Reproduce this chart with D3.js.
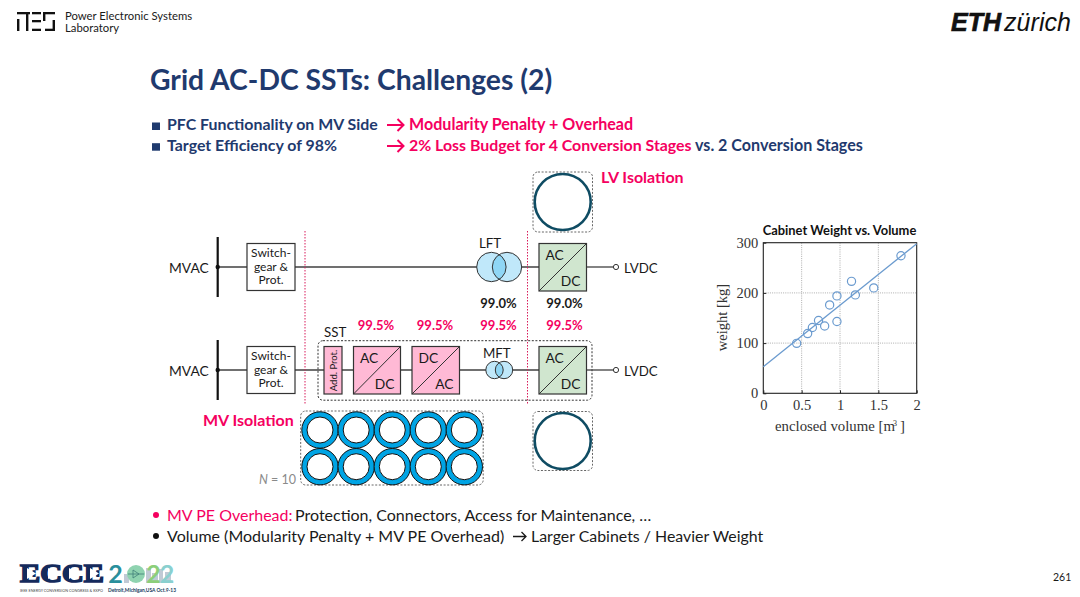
<!DOCTYPE html>
<html lang="en">
<head>
<meta charset="UTF-8">
<title>Grid AC-DC SSTs: Challenges (2)</title>
<script src="https://d3js.org/d3.v7.min.js"></script>
<style>
    html, body { margin: 0; padding: 0; background: #fff; overflow: hidden; }
    svg { display: block; }
    text { font-family: Lato, "Noto Sans", sans-serif; }
    .serif text, text.serif { font-family: "Liberation Serif", serif; }
</style>
</head>
<body>
<svg id="slide" width="1080" height="597"></svg>
<script>
// Cabinet weight vs. volume
const volumes = [0.435, 0.578, 0.64, 0.72, 0.80, 0.865, 0.96, 0.96, 1.15, 1.20, 1.44, 1.795];
const weights = [99.5, 119, 131, 145, 134, 176, 194, 143, 223, 196, 210, 274];
const fitVolumes = [0, 2];
const fitWeights = [53, 298];
const xTicks = [0, 0.5, 1, 1.5, 2];
const yTicks = [0, 100, 200, 300];

// Efficiency labels
const lftEfficiencies = ['99.0%', '99.0%'];
const sstEfficiencies = ['99.5%', '99.5%', '99.5%', '99.5%'];

const navy = '#1f3a6e', pink = '#f5005f', ink = '#1a1a1a', wire = '#404040';
const svg = d3.select('#slide');

function label(parent, x, y, str, size, opts = {}) {
    return parent.append('text')
        .attr('x', x).attr('y', y)
        .attr('font-size', size)
        .attr('font-weight', opts.weight || 400)
        .attr('font-style', opts.style || 'normal')
        .attr('text-anchor', opts.anchor || 'start')
        .attr('fill', opts.fill || ink)
        .text(str);
}

function line(parent, x1, y1, x2, y2, color = wire, width = 1.3, dash = null) {
    return parent.append('line')
        .attr('x1', x1).attr('y1', y1).attr('x2', x2).attr('y2', y2)
        .attr('stroke', color).attr('stroke-width', width)
        .attr('stroke-dasharray', dash);
}

function dashedBox(parent, x, y, w, h, color = '#666', dash = '2 1.6') {
    parent.append('rect')
        .attr('x', x).attr('y', y).attr('width', w).attr('height', h).attr('rx', 5)
        .attr('fill', 'none').attr('stroke', color).attr('stroke-width', 1)
        .attr('stroke-dasharray', dash);
}

function arrow(parent, x, y, len, head, color, width) {
    parent.append('path')
        .attr('d', `M${x},${y}H${x + len}M${x + len - head},${y - head}L${x + len},${y}L${x + len - head},${y + head}`)
        .attr('fill', 'none').attr('stroke', color).attr('stroke-width', width);
}

// ---- header ----
const pes = svg.append('g').attr('fill', '#111');
[[17, 12, 13, 2.3], [17, 19, 2.4, 12], [26, 12, 2.4, 19],
 [32, 12, 9, 2.3], [32, 20, 9, 2.3], [32, 28.7, 9, 2.3],
 [43, 12, 12, 2.3], [43, 12, 2.4, 9], [52.6, 20, 2.4, 11], [45, 28.7, 10, 2.3]]
    .forEach(d => pes.append('rect').attr('x', d[0]).attr('y', d[1]).attr('width', d[2]).attr('height', d[3]));
label(svg, 65, 20, 'Power Electronic Systems', 11.3);
label(svg, 65, 32, 'Laboratory', 11.3);

label(svg, 951, 31, 'ETH', 25, { weight: 700, style: 'italic', fill: '#111' })
    .style('font-family', '"Liberation Sans"').attr('textLength', 50).attr('stroke', '#111').attr('stroke-width', 0.7);
label(svg, 1004, 31, 'zürich', 25, { style: 'italic', fill: '#111' })
    .style('font-family', '"Liberation Sans"').attr('textLength', 67);

label(svg, 150, 89.5, 'Grid AC-DC SSTs: Challenges (2)', 28.3, { weight: 700, fill: navy });

// ---- bullets ----
function square(y) {
    svg.append('rect').attr('x', 152).attr('y', y).attr('width', 8).attr('height', 7.5).attr('fill', navy);
}
square(122.5); square(143.2);
label(svg, 167, 130, 'PFC Functionality on MV Side', 15.9, { weight: 700, fill: navy });
arrow(svg, 387, 125, 16.5, 6, pink, 2);
label(svg, 409, 130, 'Modularity Penalty + Overhead', 16.1, { weight: 700, fill: pink });
label(svg, 167, 151, 'Target Efficiency of 98%', 15.9, { weight: 700, fill: navy });
arrow(svg, 387, 146, 16.5, 6, pink, 2);
label(svg, 409, 151, '2% Loss Budget for 4 Conversion Stages', 15.9, { weight: 700, fill: pink });
label(svg, 695, 151, 'vs. 2 Conversion Stages', 16.1, { weight: 700, fill: navy });

// ---- circuit diagram ----
const dia = svg.append('g');

function converter(px, py, w, h, fill, top, bottom) {
    dia.append('rect').attr('x', px).attr('y', py).attr('width', w).attr('height', h)
        .attr('fill', fill).attr('stroke', '#333').attr('stroke-width', 1.2);
    line(dia, px, py + h, px + w, py, '#333', 1);
    label(dia, px + 6.5, py + 16.5, top, 13.8);
    label(dia, px + w - 6, py + h - 5, bottom, 13.8, { anchor: 'end' });
}

function switchgear(py) {
    dia.append('rect').attr('x', 247).attr('y', py).attr('width', 48).attr('height', 47)
        .attr('fill', '#fff').attr('stroke', '#333').attr('stroke-width', 1.2);
    ['Switch-', 'gear &', 'Prot.'].forEach((s, i) =>
        label(dia, 271, py + 13.5 + i * 13.5, s, 12, { anchor: 'middle' }));
}

function bus(py) {
    line(dia, 217.7, py - 30, 217.7, py + 30, '#111', 2.2);
    dia.append('circle').attr('cx', 217.7).attr('cy', py).attr('r', 2.2).attr('fill', '#111');
    label(dia, 169, py + 5.5, 'MVAC', 13.8);
}

function transformer(cx1, cx2, cy, r, fill, overlap) {
    const id = 'clip' + Math.round(cy);
    dia.append('clipPath').attr('id', id).append('circle').attr('cx', cx1).attr('cy', cy).attr('r', r);
    [cx1, cx2].forEach(cx => dia.append('circle').attr('cx', cx).attr('cy', cy).attr('r', r).attr('fill', fill));
    dia.append('circle').attr('cx', cx2).attr('cy', cy).attr('r', r).attr('fill', overlap).attr('clip-path', `url(#${id})`);
    [cx1, cx2].forEach(cx => dia.append('circle').attr('cx', cx).attr('cy', cy).attr('r', r)
        .attr('fill', 'none').attr('stroke', '#333').attr('stroke-width', 1));
}

function lvdc(py) {
    line(dia, 587, py, 613.5, py);
    dia.append('circle').attr('cx', 616).attr('cy', py).attr('r', 2.6).attr('fill', '#fff').attr('stroke', '#333').attr('stroke-width', 1);
    label(dia, 624, py + 5.5, 'LVDC', 13.3);
}

// wires
line(dia, 218, 267, 539, 267);
line(dia, 218, 370, 539, 370);

// isolation boxes
dashedBox(dia, 533, 172, 59.5, 60);
dashedBox(dia, 533, 411.5, 59.5, 59);
dashedBox(dia, 300.7, 411, 182.5, 74);
dashedBox(dia, 318, 340.7, 274, 59.5, '#333');

bus(267); bus(370);
switchgear(243.5); switchgear(346.5);

// Add. Prot. block
dia.append('rect').attr('x', 324).attr('y', 346.5).attr('width', 18).attr('height', 47.5)
    .attr('fill', '#ffb9d5').attr('stroke', '#333').attr('stroke-width', 1.2);
label(dia, 0, 0, 'Add. Prot.', 9.5, { anchor: 'middle' }).attr('transform', 'translate(336.5,370.5) rotate(-90)');

converter(353.5, 346.5, 47, 47.5, '#ffb9d5', 'AC', 'DC');
converter(412, 346.5, 47.5, 47.5, '#ffb9d5', 'DC', 'AC');
converter(539, 243.5, 47.5, 47.5, '#d0e6cf', 'AC', 'DC');
converter(539, 346.5, 47.5, 47.5, '#d0e6cf', 'AC', 'DC');

transformer(491.4, 507, 267, 14.7, '#c0e8fa', '#8fd6f5');
transformer(494.5, 504, 370, 8.7, '#c0e8fa', '#8fd6f5');
lvdc(267); lvdc(370);

// red separators
[305, 527.5].forEach(px => line(dia, px, 231, px, 404, '#d81b5a', 1, '1.5 1.5'));

// LV core rings
[202, 441].forEach(cy => dia.append('circle').attr('cx', 562.7).attr('cy', cy).attr('r', 28)
    .attr('fill', '#fff').attr('stroke', '#0f4c63').attr('stroke-width', 2.6));

// MV core rings, 2 rows of 5
const ringColumns = [320, 356.2, 392.3, 428.3, 464.3];
const ringRows = [430, 466.7];
ringRows.forEach(cy => ringColumns.forEach(cx => {
    dia.append('circle').attr('cx', cx).attr('cy', cy).attr('r', 15.6)
        .attr('fill', '#fff').attr('stroke', '#00a4e4').attr('stroke-width', 5.2);
    [18.2, 13].forEach(r => dia.append('circle').attr('cx', cx).attr('cy', cy).attr('r', r)
        .attr('fill', 'none').attr('stroke', '#111').attr('stroke-width', 1));
}));

label(dia, 479, 248, 'LFT', 13.3);
label(dia, 483, 358, 'MFT', 13.3);
label(dia, 324, 337, 'SST', 13.3);
label(dia, 203, 425.5, 'MV Isolation', 16, { weight: 700, fill: pink });
label(dia, 601, 182.5, 'LV Isolation', 16, { weight: 700, fill: pink });
label(dia, 259, 484, 'N', 12.5, { style: 'italic', fill: '#8a8a8a' });
label(dia, 271, 484, '= 10', 12.5, { fill: '#8a8a8a' });

const lftX = [498.5, 564.5];
lftEfficiencies.forEach((s, i) => label(dia, lftX[i], 308, s, 13, { weight: 700, anchor: 'middle' }));
const sstX = [376, 435, 498.5, 564.5];
sstEfficiencies.forEach((s, i) => label(dia, sstX[i], 330, s, 13, { weight: 700, anchor: 'middle', fill: pink }));

// ---- scatter plot ----
const plot = svg.append('g').attr('class', 'serif');
const x = d3.scaleLinear().domain([0, 2]).range([763.3, 916.7]);
const y = d3.scaleLinear().domain([0, 300]).range([393.3, 242.7]);

xTicks.slice(1, -1).forEach(t => line(plot, x(t), y(0), x(t), y(300), '#999', 0.8, '1 1.2'));
yTicks.slice(1, -1).forEach(t => line(plot, x(0), y(t), x(2), y(t), '#999', 0.8, '1 1.2'));

const xAxis = d3.axisBottom(x).tickValues(xTicks).tickFormat(d3.format('~g')).tickSize(-3).tickPadding(6);
const yAxis = d3.axisLeft(y).tickValues(yTicks).tickSize(-3).tickPadding(5);
[[xAxis, `translate(0,${y(0)})`], [yAxis, `translate(${x(0)},0)`]].forEach(([axis, tf]) => {
    const g = plot.append('g').attr('transform', tf).call(axis);
    g.selectAll('text').attr('font-size', 14.5).attr('fill', '#333').style('font-family', '"Liberation Serif"');
    g.selectAll('line').attr('stroke', '#222');
    g.select('.domain').remove();
});

plot.append('rect').attr('x', x(0)).attr('y', y(300)).attr('width', x(2) - x(0)).attr('height', y(0) - y(300))
    .attr('fill', 'none').attr('stroke', '#222').attr('stroke-width', 1.1);

plot.append('path')
    .datum(fitVolumes.map((v, i) => [v, fitWeights[i]]))
    .attr('d', d3.line().x(d => x(d[0])).y(d => y(d[1])))
    .attr('fill', 'none').attr('stroke', '#6b9bcf').attr('stroke-width', 1.3);

plot.selectAll('circle.pt')
    .data(volumes.map((v, i) => [v, weights[i]]))
    .join('circle')
    .attr('class', 'pt')
    .attr('cx', d => x(d[0])).attr('cy', d => y(d[1])).attr('r', 4.1)
    .attr('fill', 'none').attr('stroke', '#6b9bcf').attr('stroke-width', 1.2);

label(svg, 839.5, 235, 'Cabinet Weight vs. Volume', 12.9, { weight: 700, anchor: 'middle', fill: '#111' });
label(plot, 775, 431, 'enclosed volume [m', 14.8, { fill: '#333' });
label(plot, 893, 425.5, '3', 8, { fill: '#333' });
label(plot, 900, 431, ']', 14.8, { fill: '#333' });
label(plot, 0, 0, 'weight [kg]', 14.5, { anchor: 'middle', fill: '#333' })
    .attr('transform', 'translate(726.5,317.5) rotate(-90)');

// ---- bottom notes ----
svg.append('circle').attr('cx', 156).attr('cy', 515).attr('r', 3).attr('fill', pink);
svg.append('circle').attr('cx', 156).attr('cy', 536).attr('r', 3).attr('fill', '#111');
label(svg, 167, 521, 'MV PE Overhead:', 16, { fill: pink });
label(svg, 295, 521, 'Protection, Connectors, Access for Maintenance, \u2026', 16);
label(svg, 167, 542, 'Volume (Modularity Penalty + MV PE Overhead)', 16);
arrow(svg, 513, 536.5, 13, 4.5, '#1a1a1a', 1.3);
label(svg, 531, 542, 'Larger Cabinets / Heavier Weight', 15.9);
label(svg, 1053, 581, '261', 10.5);

// ---- ECCE logo ----
const logo = svg.append('g');
label(logo, 20, 582, 'ECCE', 26, { weight: 700, fill: '#142a5c' })
    .style('font-family', '"Liberation Serif"')
    .attr('textLength', 84).attr('lengthAdjust', 'spacingAndGlyphs')
    .attr('stroke', '#142a5c').attr('stroke-width', 1.6);
[31, 52, 73, 94].forEach(cx => {
    logo.append('path').attr('d', `M${cx - 4},568L${cx + 5},573.5L${cx - 4},579Z`).attr('fill', '#fff');
});

// skyline behind the year
[[124, 574, 5], [146, 568, 5], [152, 573, 6], [159, 569, 4], [165, 572, 6]].forEach(d =>
    logo.append('rect').attr('x', d[0]).attr('y', d[1]).attr('width', d[2]).attr('height', 583 - d[1])
        .attr('fill', '#8c9fb3').attr('opacity', 0.55));
logo.append('circle').attr('cx', 136).attr('cy', 574).attr('r', 9).attr('fill', '#8fd3b0');
line(logo, 128, 574, 144, 574, '#3f7f78', 0.8);
logo.append('path').attr('d', 'M133,570L139,574L133,578Z').attr('fill', 'none').attr('stroke', '#3f7f78').attr('stroke-width', 0.8);
[[115.5, '2', '#2a8f9c'], [153.5, '2', '#8ccf7a'], [167, '2', '#8ad0cf']].forEach(d =>
    label(logo, d[0], 583, d[1], 25, { weight: 700, anchor: 'middle', fill: d[2] }));
label(logo, 20, 592, 'IEEE ENERGY CONVERSION CONGRESS & EXPO', 4.4, { fill: '#444' })
    .attr('textLength', 83).attr('lengthAdjust', 'spacingAndGlyphs');
label(logo, 108, 592, 'Detroit,Michigan,USA Oct.9-13', 5.4, { weight: 700, fill: '#143a5c' })
    .attr('textLength', 68).attr('lengthAdjust', 'spacingAndGlyphs');
</script>
</body>
</html>
